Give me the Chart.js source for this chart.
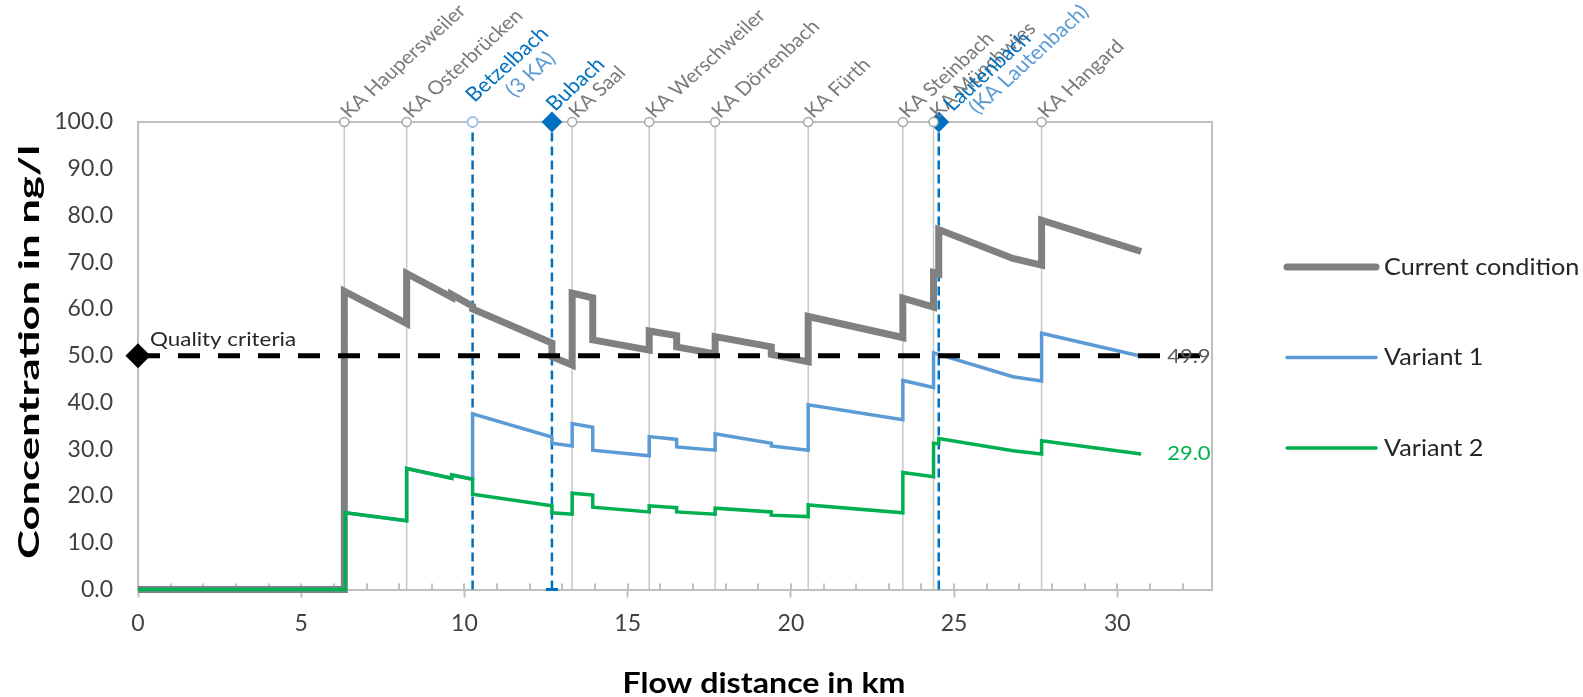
<!DOCTYPE html>
<html>
<head>
<meta charset="utf-8">
<script src="https://cdn.jsdelivr.net/npm/chart.js@4.4.1/dist/chart.umd.min.js"></script>
<style>
  html, body { margin: 0; padding: 0; background: #fff; }
  canvas { display: block; }
</style>
</head>
<body>
<canvas id="chart" width="1583" height="697"></canvas>
<script>
// treatment plants (KA) along the river, flow distance in km
const kaNames = ['KA Haupersweiler', 'KA Osterbrücken', 'KA Saal', 'KA Werschweiler', 'KA Dörrenbach',
                 'KA Fürth', 'KA Steinbach', 'KA Münchwies', 'KA Hangard'];
const kaKm = [6.32, 8.23, 13.30, 15.66, 17.68, 20.53, 23.43, 24.37, 27.68];

// tributaries
const tribNames = [['Betzelbach', '(3 KA)'], ['Bubach'], ['Lautenbach', '(KA Lautenbach)']];
const tribKm = [10.25, 12.68, 24.53];

// concentration in ng/l
const currentKm  = [0, 6.32, 6.32, 8.23, 8.23, 9.61, 9.61, 10.25, 10.25, 12.68, 12.68, 13.30, 13.30, 13.93, 13.93,
                    15.66, 15.66, 16.50, 16.50, 17.68, 17.68, 19.40, 19.40, 20.53, 20.53, 23.43, 23.43,
                    24.37, 24.37, 24.53, 24.53, 26.8, 27.68, 27.68, 30.73];
const currentVal = [0, 0, 63.8, 56.9, 67.6, 62.5, 63.1, 60.6, 60.0, 52.7, 49.8, 48.0, 63.4, 62.4, 53.4,
                    51.2, 55.3, 54.3, 51.9, 50.4, 54.1, 51.9, 50.3, 48.7, 58.4, 53.9, 62.3,
                    60.4, 67.8, 67.5, 77.0, 70.8, 69.4, 79.0, 72.3];

const variant1Km  = [0, 6.35, 6.35, 8.23, 8.23, 9.61, 9.61, 10.25, 10.25, 12.68, 12.68, 13.30, 13.30, 13.93, 13.93,
                     15.66, 15.66, 16.50, 16.50, 17.68, 17.68, 19.40, 19.40, 20.53, 20.53, 23.43, 23.43,
                     24.37, 24.37, 26.8, 27.68, 27.68, 30.73];
const variant1Val = [0, 0, 16.4, 14.7, 25.9, 23.8, 24.5, 23.6, 37.6, 32.6, 31.3, 30.7, 35.5, 34.7, 29.8,
                     28.6, 32.7, 32.1, 30.5, 29.8, 33.3, 31.3, 30.7, 29.8, 39.5, 36.3, 44.7,
                     43.2, 50.6, 45.5, 44.6, 54.8, 49.9];

const variant2Km  = [0, 6.35, 6.35, 8.23, 8.23, 9.61, 9.61, 10.25, 10.25, 12.68, 12.68, 13.30, 13.30, 13.93, 13.93,
                     15.66, 15.66, 16.50, 16.50, 17.68, 17.68, 19.40, 19.40, 20.53, 20.53, 23.43, 23.43,
                     24.37, 24.37, 24.53, 24.53, 26.8, 27.68, 27.68, 30.73];
const variant2Val = [0, 0, 16.4, 14.7, 25.9, 23.8, 24.5, 23.6, 20.4, 17.9, 16.4, 16.1, 20.6, 20.2, 17.6,
                     16.6, 17.9, 17.5, 16.6, 16.1, 17.4, 16.6, 15.9, 15.6, 18.1, 16.4, 25.0,
                     24.1, 31.3, 31.2, 32.3, 29.7, 29.0, 31.8, 29.0];

const qualityCriteria = 50;
const xMax = 32.9;
const yMax = 100;

const toPoints = (xs, ys) => xs.map((x, i) => ({ x: x, y: ys[i] }));
const vLines = kms => kms.flatMap(k => [{ x: k, y: 0 }, { x: k, y: yMax }, { x: k, y: null }]);

const tribMarker = ['circle', 'rectRot', 'rectRot'];

function slanted(ctx, text, x, y) {
    ctx.save();
    ctx.translate(x, y);
    ctx.scale(1.1, 1);
    ctx.rotate(-Math.PI / 4);
    ctx.fillText(text, 0, 0);
    ctx.restore();
}

function stretched(ctx, text, x, y, sx) {
    ctx.save();
    ctx.translate(x, y);
    ctx.scale(sx, 1);
    ctx.fillText(text, 0, 0);
    ctx.restore();
}

const decorPlugin = {
    id: 'decor',
    beforeDatasetsDraw(chart) {
        const { ctx, chartArea: a, scales: { x } } = chart;
        ctx.save();
        ctx.strokeStyle = '#bfbfbf';
        ctx.lineWidth = 2;
        ctx.beginPath();
        ctx.moveTo(a.left, a.top);
        ctx.lineTo(a.right, a.top);
        ctx.lineTo(a.right, a.bottom);
        // small inner ticks every km
        for (let k = 1; k < xMax; k++) {
            const px = Math.round(x.getPixelForValue(k));
            ctx.moveTo(px, a.bottom);
            ctx.lineTo(px, a.bottom - 6);
        }
        ctx.stroke();
        ctx.restore();
    },
    afterDatasetsDraw(chart) {
        const { ctx, scales: { x, y } } = chart;
        const top = y.getPixelForValue(yMax);
        ctx.save();
        ctx.textBaseline = 'alphabetic';
        ctx.textAlign = 'left';

        // plant names
        ctx.font = '19px Lato';
        ctx.fillStyle = '#7a7a7a';
        kaNames.forEach((name, i) => slanted(ctx, name, x.getPixelForValue(kaKm[i]) + 5, top - 3));

        // tributary names
        ctx.font = '20px Lato';
        const tribOffsets = [[[2, -19], [42, -24]], [[3, -10]], [[14, -10], [39, -7]]];
        tribNames.forEach((lines, i) => {
            const px = x.getPixelForValue(tribKm[i]);
            lines.forEach((txt, j) => {
                ctx.fillStyle = j === 0 ? '#0070c0' : '#5b9bd5';
                slanted(ctx, txt, px + tribOffsets[i][j][0], top + tribOffsets[i][j][1]);
            });
        });

        // quality criteria label
        ctx.fillStyle = '#262626';
        ctx.font = '20px Lato';
        ctx.textBaseline = 'middle';
        stretched(ctx, 'Quality criteria', x.getPixelForValue(0) + 12, y.getPixelForValue(qualityCriteria) - 16, 1.12);

        // end values
        const ends = [[variant1Val, variant1Km, '#595959'], [variant2Val, variant2Km, '#00b050']];
        ends.forEach(([vals, kms, col]) => {
            const n = vals.length - 1;
            ctx.fillStyle = col;
            stretched(ctx, vals[n].toFixed(1), x.getPixelForValue(kms[n]) + 26, y.getPixelForValue(vals[n]), 1.1);
        });

        // legend
        ctx.font = '24px Lato';
        [0, 1, 2].forEach(i => {
            const ds = chart.data.datasets[i];
            const ly = 267 + i * 90.5;
            ctx.strokeStyle = ds.borderColor;
            ctx.lineWidth = ds.borderWidth;
            ctx.lineCap = 'round';
            ctx.beginPath();
            ctx.moveTo(1287, ly);
            ctx.lineTo(1376, ly);
            ctx.stroke();
            ctx.fillStyle = '#262626';
            stretched(ctx, ds.label, 1384, ly, 1.05);
        });

        // axis titles
        ctx.fillStyle = '#000';
        ctx.font = 'bold 28px Lato';
        ctx.textAlign = 'center';
        const yt = 'Concentration in ng/l';
        ctx.save();
        ctx.translate(30, 352);
        ctx.rotate(-Math.PI / 2);
        ctx.scale(414 / ctx.measureText(yt).width, 1);
        ctx.fillText(yt, 0, 0);
        ctx.restore();
        const xt = 'Flow distance in km';
        stretched(ctx, xt, 764, 684, 283 / ctx.measureText(xt).width);
        ctx.restore();
    }
};

const tickFont = { family: 'Lato', size: 23 };

new Chart(document.getElementById('chart'), {
    type: 'line',
    data: {
        datasets: [
            {
                label: 'Current condition',
                data: toPoints(currentKm, currentVal),
                borderColor: '#808080',
                borderWidth: 7,
                pointRadius: 0,
                borderJoinStyle: 'miter',
                clip: false,
                order: 3
            },
            {
                label: 'Variant 1',
                data: toPoints(variant1Km, variant1Val),
                borderColor: '#5b9bd5',
                borderWidth: 3.5,
                pointRadius: 0,
                clip: false,
                order: 2
            },
            {
                label: 'Variant 2',
                data: toPoints(variant2Km, variant2Val),
                borderColor: '#00b050',
                borderWidth: 3.5,
                pointRadius: 0,
                clip: false,
                order: 1
            },
            {
                label: 'Quality criteria',
                data: [{ x: 0, y: qualityCriteria }, { x: xMax, y: qualityCriteria }],
                borderColor: '#000',
                borderWidth: 5,
                borderDash: [22, 18],
                pointStyle: 'rectRot',
                pointRadius: c => c.dataIndex === 0 ? 9 : 0,
                pointBackgroundColor: '#000',
                pointBorderColor: '#000',
                clip: false,
                order: 0
            },
            {
                label: 'KA',
                data: vLines(kaKm),
                borderColor: '#c8c8c8',
                borderWidth: 1.5,
                pointStyle: 'circle',
                pointRadius: c => c.raw && c.raw.y === yMax ? 4.5 : 0,
                pointBackgroundColor: '#fff',
                pointBorderColor: '#a6a6a6',
                pointBorderWidth: 1.5,
                clip: false,
                order: 4
            },
            {
                label: 'Tributaries',
                data: vLines(tribKm),
                borderColor: '#0070c0',
                borderWidth: 2.5,
                borderDash: [9, 5],
                pointStyle: c => {
                    const i = Math.floor(c.dataIndex / 3), p = c.dataIndex % 3;
                    return p === 1 ? tribMarker[i] : 'line';
                },
                pointRadius: c => {
                    const i = Math.floor(c.dataIndex / 3), p = c.dataIndex % 3;
                    if (p === 1) return i === 0 ? 5 : 9;
                    return (p === 0 && i === 1) ? 6 : 0;
                },
                pointBackgroundColor: c => Math.floor(c.dataIndex / 3) === 0 ? '#fff' : '#0070c0',
                pointBorderColor: c => Math.floor(c.dataIndex / 3) === 0 ? '#9dc3e6' : '#0070c0',
                pointBorderWidth: c => c.dataIndex % 3 === 0 ? 3 : 2,
                clip: false,
                order: 5
            }
        ]
    },
    options: {
        responsive: false,
        animation: false,
        events: [],
        layout: { padding: { top: 122, right: 371, left: 0, bottom: 0 } },
        plugins: {
            legend: { display: false },
            tooltip: { enabled: false }
        },
        scales: {
            x: {
                type: 'linear',
                min: 0,
                max: xMax,
                afterFit: s => { s.height = 107.5; },
                ticks: {
                    stepSize: 1,
                    autoSkip: false,
                    maxRotation: 0,
                    padding: 12,
                    color: '#404040',
                    font: tickFont,
                    callback: v => v % 5 === 0 ? v : ''
                },
                grid: {
                    drawOnChartArea: false,
                    drawTicks: true,
                    tickLength: 8,
                    tickWidth: 2,
                    tickColor: c => c.tick && c.tick.value % 5 === 0 ? '#bfbfbf' : 'rgba(0,0,0,0)'
                },
                border: { color: '#bfbfbf', width: 2 }
            },
            y: {
                min: 0,
                max: yMax,
                afterFit: s => { s.width = 138; },
                ticks: {
                    stepSize: 10,
                    padding: 25,
                    color: '#404040',
                    font: tickFont,
                    callback: v => v.toFixed(1)
                },
                grid: { display: false, drawTicks: false },
                border: { color: '#bfbfbf', width: 2 }
            }
        }
    },
    plugins: [decorPlugin]
});
</script>
</body>
</html>
